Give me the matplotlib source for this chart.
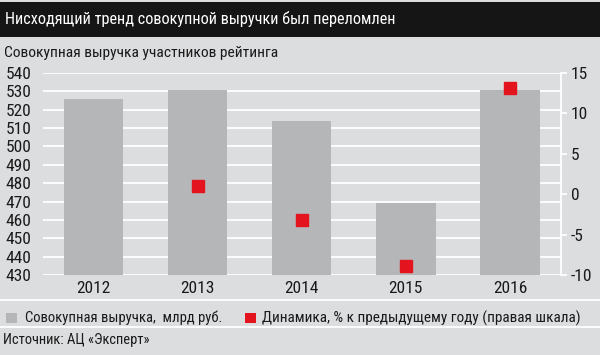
import numpy as np
import matplotlib.pyplot as plt
from matplotlib.patches import Rectangle
from matplotlib.lines import Line2D

years = ['2012', '2013', '2014', '2015', '2016']
revenue = [526, 531, 514, 469, 531]          # млрд руб., левая шкала
change = [np.nan, 1.0, -3.2, -8.9, 13.1]     # %, правая шкала

title = 'Нисходящий тренд совокупной выручки был переломлен'
subtitle = 'Совокупная выручка участников рейтинга'
legend_bar = 'Совокупная выручка,  млрд руб.'
legend_dot = 'Динамика, % к предыдущему году (правая шкала)'
source = 'Источник: АЦ «Эксперт»'

bg = '#dcdddf'
bar_col = '#b5b6b8'
red = '#e3141d'
txt = '#1a1a1a'
plt.rcParams['font.family'] = ['Roboto Condensed', 'Liberation Sans Narrow', 'Roboto', 'DejaVu Sans']
plt.rcParams['font.stretch'] = 'condensed'
plt.rcParams['axes.unicode_minus'] = False

W, H = 600, 355
fig = plt.figure(figsize=(6, 3.55), dpi=100)
fig.patch.set_facecolor(bg)


def fy(py):
    return 1 - py / H


def fit(t, width_px):
    # подгоняем размер шрифта под ширину текста на исходной картинке
    r = fig.canvas.get_renderer()
    w = t.get_window_extent(r).width
    t.set_fontsize(t.get_fontsize() * width_px / w)


# шапка
fig.patches.append(Rectangle((0, fy(36.5)), 1, 34.5 / H, transform=fig.transFigure,
                             facecolor='#151515', edgecolor='none', zorder=0))
t_title = fig.text(5 / W, fy(19), title, color='white', fontsize=15, va='center', ha='left')
t_sub = fig.text(4 / W, fy(53), subtitle, color=txt, fontsize=12, va='center', ha='left')

ax = fig.add_axes([43 / W, fy(275), (561 - 43) / W, (275 - 73) / H])
ax.set_facecolor(bg)
x = np.arange(len(years))
ax.bar(x, revenue, width=0.57, color=bar_col, zorder=2)
ax.set_ylim(430, 540)
ax.set_yticks(np.arange(430, 541, 10))
ax.set_xlim(-0.486, 4.49)
ax.set_xticks(x)
ax.set_xticklabels(years)
ax.grid(axis='y', color='white', linewidth=1.3, zorder=1)
ax.set_axisbelow(True)
for s in ax.spines.values():
    s.set_visible(False)
ax.tick_params(axis='y', length=0, pad=8.5, labelsize=12.5, colors=txt)
ax.tick_params(axis='x', length=0, pad=4, labelsize=12.5, colors=txt)

ax2 = ax.twinx()
ax2.plot(x, change, linestyle='none', marker='s', markersize=8, color=red,
         markeredgecolor=red, zorder=3)
ax2.set_ylim(-10, 15)
ax2.set_yticks(np.arange(-10, 16, 5))
for s in ['top', 'left', 'bottom']:
    ax2.spines[s].set_visible(False)
ax2.spines['right'].set_color('white')
ax2.spines['right'].set_linewidth(1.3)
ax2.tick_params(axis='y', colors='white', length=4, width=1.3, pad=3,
                labelsize=12.5, labelcolor=txt)

# разделители
for yy in [300, 327.3]:
    fig.add_artist(Line2D([0, 1], [fy(yy)] * 2, transform=fig.transFigure,
                          color='white', linewidth=1.3))

# легенда
ly = fy(318)
fig.patches.append(Rectangle((6 / W, fy(322.5)), 11 / W, 10 / H,
                             transform=fig.transFigure, facecolor=bar_col, edgecolor='none'))
t_l1 = fig.text(25 / W, ly, legend_bar, fontsize=11, va='center', ha='left', color=txt)
fig.patches.append(Rectangle((245 / W, fy(322.5)), 11 / W, 10 / H,
                             transform=fig.transFigure, facecolor=red, edgecolor='none'))
t_l2 = fig.text(262 / W, ly, legend_dot, fontsize=11, va='center', ha='left', color=txt)

t_src = fig.text(3 / W, fy(340), source, fontsize=11, va='center', ha='left', color=txt)

for t, wpx in [(t_title, 392), (t_sub, 273), (t_l1, 197), (t_l2, 318), (t_src, 147)]:
    fit(t, wpx)

fig.savefig('out.png', dpi=100, facecolor=bg)
